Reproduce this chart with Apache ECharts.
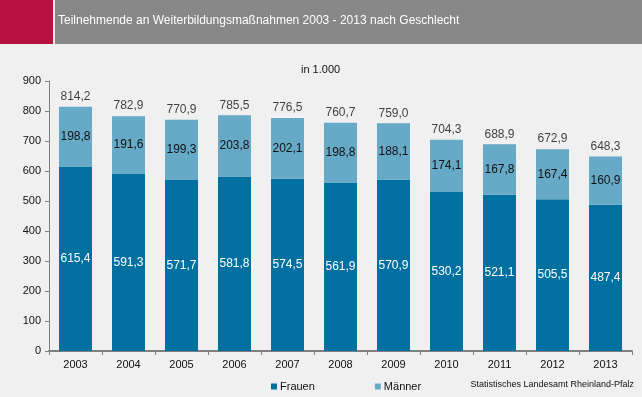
<!DOCTYPE html>
<html>
<head>
<meta charset="utf-8">
<script src="https://cdn.jsdelivr.net/npm/echarts@6/dist/echarts.min.js"></script>
<style>
  html, body { margin: 0; padding: 0; background: #eff0ef; }
  #chart { width: 642px; height: 397px; }
</style>
</head>
<body>
<div id="chart"></div>
<script>
// Werte in 1.000
const years = ["2003", "2004", "2005", "2006", "2007", "2008", "2009", "2010", "2011", "2012", "2013"];
const frauen = [615.4, 591.3, 571.7, 581.8, 574.5, 561.9, 570.9, 530.2, 521.1, 505.5, 487.4];
const maenner = [198.8, 191.6, 199.3, 203.8, 202.1, 198.8, 188.1, 174.1, 167.8, 167.4, 160.9];
const gesamt = [814.2, 782.9, 770.9, 785.5, 776.5, 760.7, 759.0, 704.3, 688.9, 672.9, 648.3];

const fmt = (v) => v.toFixed(1).replace(".", ",");

let chart = echarts.init(document.getElementById("chart"));
chart.setOption({
  backgroundColor: "#eff0ef",
  textStyle: { fontFamily: "Liberation Sans, Arial, sans-serif" },
  animation: false,
  graphic: [
    { type: "rect", shape: { x: 0, y: 0, width: 53, height: 44 }, style: { fill: "#b5123e" } },
    { type: "rect", shape: { x: 55, y: 0, width: 587, height: 44 }, style: { fill: "#878787" } },
    {
      type: "text", left: 58, top: 15,
      style: { text: "Teilnehmende an Weiterbildungsmaßnahmen 2003 - 2013 nach Geschlecht", fill: "#fff", fontSize: 12, fontFamily: "Liberation Sans, Arial, sans-serif" },
    },
    {
      type: "text", left: 301, top: 64,
      style: { text: "in 1.000", fill: "#111", fontSize: 11, fontFamily: "Liberation Sans, Arial, sans-serif" },
    },
    {
      type: "text", right: 8, top: 380,
      style: { text: "Statistisches Landesamt Rheinland-Pfalz", fill: "#111", fontSize: 9, fontFamily: "Liberation Sans, Arial, sans-serif" },
    },
  ],
  legend: {
    data: ["Frauen", "Männer"],
    left: 266,
    top: 376,
    itemWidth: 6,
    itemHeight: 6,
    itemGap: 60,
    icon: "rect",
    textStyle: { fontSize: 11, color: "#111", padding: [0, 0, 0, -2] },
  },
  grid: { left: 49, right: 10, top: 81, bottom: 46 },
  xAxis: {
    type: "category",
    data: years,
    axisLine: { lineStyle: { color: "#808080", width: 2 } },
    axisTick: { show: true, length: 4, lineStyle: { color: "#808080" } },
    axisLabel: { color: "#111", fontSize: 11, margin: 8 },
  },
  yAxis: {
    type: "value",
    min: 0,
    max: 900,
    interval: 100,
    splitLine: { show: false },
    axisLine: { show: true, lineStyle: { color: "#808080" } },
    axisTick: { show: true, length: 4, lineStyle: { color: "#808080" } },
    axisLabel: { color: "#111", fontSize: 11, margin: 8 },
  },
  series: [
    {
      name: "Frauen",
      type: "bar",
      stack: "t",
      barWidth: 33,
      data: frauen,
      itemStyle: { color: "#0070a1" },
      label: { show: true, position: "inside", color: "#fff", fontSize: 12, formatter: (p) => fmt(p.value) },
    },
    {
      name: "Männer",
      type: "bar",
      stack: "t",
      barWidth: 33,
      data: maenner,
      itemStyle: { color: "#66aac8" },
      label: { show: true, position: "inside", color: "#111", fontSize: 12, formatter: (p) => fmt(p.value) },
    },
    {
      name: "Gesamt",
      type: "scatter",
      data: gesamt,
      symbolSize: 0,
      silent: true,
      label: { show: true, position: "top", distance: 4, color: "#111", fontSize: 12, formatter: (p) => fmt(p.value) },
    },
  ],
});
</script>
</body>
</html>
